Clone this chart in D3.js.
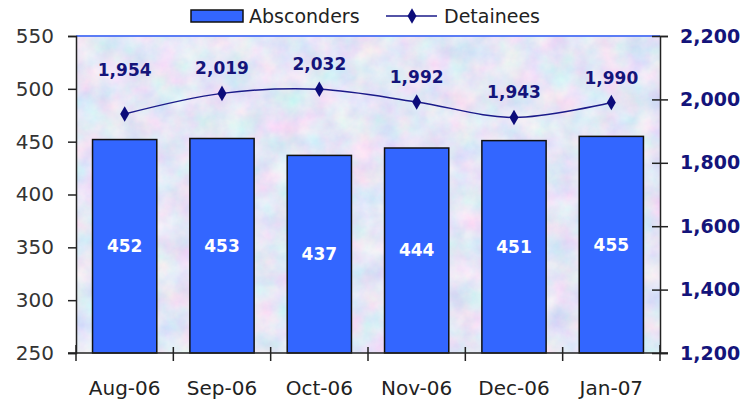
<!DOCTYPE html>
<html>
<head>
<meta charset="utf-8">
<script src="https://cdn.jsdelivr.net/npm/d3@7"></script>
<style>
  body { margin: 0; background: #fff; }
  svg { display: block; font-family: "DejaVu Sans", Verdana, sans-serif; }
</style>
</head>
<body>
<div id="chart"></div>
<script>
// chart data
const months = ['Aug-06', 'Sep-06', 'Oct-06', 'Nov-06', 'Dec-06', 'Jan-07'];
const absconders = [452, 453, 437, 444, 451, 455];
const detainees = [1954, 2019, 2032, 1992, 1943, 1990];
const leftTicks = [250, 300, 350, 400, 450, 500, 550];
const rightTicks = [1200, 1400, 1600, 1800, 2000, 2200];

const width = 754, height = 402;
const margin = { top: 36, right: 94, bottom: 49, left: 76 };
const innerW = width - margin.left - margin.right;
const innerH = height - margin.top - margin.bottom;
const font = '"DejaVu Sans", Verdana, sans-serif';

const svg = d3.select('#chart').append('svg')
  .attr('width', width)
  .attr('height', height);

// textured pastel background for the plot area
const defs = svg.append('defs');
const filt = defs.append('filter').attr('id', 'tex')
  .attr('x', 0).attr('y', 0).attr('width', '100%').attr('height', '100%');
filt.append('feTurbulence')
  .attr('type', 'fractalNoise')
  .attr('baseFrequency', 0.04)
  .attr('numOctaves', 5)
  .attr('seed', 11)
  .attr('result', 'noise');
filt.append('feColorMatrix')
  .attr('in', 'noise')
  .attr('type', 'matrix')
  .attr('values', [
    0.5, 0, 0, 0, 0.53,
    0, 0.35, 0, 0, 0.62,
    0, 0, 0.15, 0, 0.84,
    0, 0, 0, 0, 1
  ].join(' '));

const x = d3.scaleBand()
  .domain(months)
  .range([0, innerW])
  .paddingInner(0.34)
  .paddingOuter(0.17);

const xTick = d3.scaleBand().domain(months).range([0, innerW]);

const yL = d3.scaleLinear().domain([250, 550]).range([innerH, 0]);
const yR = d3.scaleLinear().domain([1200, 2200]).range([innerH, 0]);

const g = svg.append('g').attr('transform', `translate(${margin.left},${margin.top})`);

g.append('rect')
  .attr('width', innerW)
  .attr('height', innerH)
  .attr('filter', 'url(#tex)');

// top border of plot area
g.append('line')
  .attr('x1', 0).attr('x2', innerW)
  .attr('y1', 0).attr('y2', 0)
  .attr('stroke', '#5b7cf5')
  .attr('stroke-width', 2);

// bars
g.selectAll('rect.bar')
  .data(absconders)
  .enter().append('rect')
  .attr('class', 'bar')
  .attr('x', (d, i) => x(months[i]))
  .attr('y', d => yL(d))
  .attr('width', x.bandwidth())
  .attr('height', d => innerH - yL(d))
  .attr('fill', '#3366ff')
  .attr('stroke', '#111')
  .attr('stroke-width', 1.5);

g.selectAll('text.barlab')
  .data(absconders)
  .enter().append('text')
  .attr('class', 'barlab')
  .attr('x', (d, i) => x(months[i]) + x.bandwidth() / 2)
  .attr('y', d => (yL(d) + innerH) / 2)
  .attr('dy', '0.35em')
  .attr('text-anchor', 'middle')
  .attr('fill', '#fff')
  .attr('font-weight', 'bold')
  .attr('font-size', 17)
  .text(d => d);

// detainees line
const cx = i => x(months[i]) + x.bandwidth() / 2;
const line = d3.line()
  .x((d, i) => cx(i))
  .y(d => yR(d))
  .curve(d3.curveCatmullRom.alpha(0.5));

g.append('path')
  .datum(detainees)
  .attr('d', line)
  .attr('fill', 'none')
  .attr('stroke', '#1a1a88')
  .attr('stroke-width', 1.5);

const diamond = d3.symbol().type(d3.symbolDiamond).size(70);
g.selectAll('path.pt')
  .data(detainees)
  .enter().append('path')
  .attr('class', 'pt')
  .attr('d', diamond)
  .attr('transform', (d, i) => `translate(${cx(i)},${yR(d)})`)
  .attr('fill', '#0c0c7a');

// labels sit above the markers; the first one was pushed up a bit in the original
const fmt = d3.format(',');
g.selectAll('text.ptlab')
  .data(detainees)
  .enter().append('text')
  .attr('class', 'ptlab')
  .attr('x', (d, i) => cx(i))
  .attr('y', (d, i) => yR(d) - (i === 0 ? 44 : 25))
  .attr('dy', '0.35em')
  .attr('text-anchor', 'middle')
  .attr('fill', '#14147a')
  .attr('font-weight', 'bold')
  .attr('font-size', 17)
  .text(d => fmt(d));

// left axis
const leftAxis = g.append('g')
  .call(d3.axisLeft(yL).tickValues(leftTicks).tickSize(8).tickPadding(14));
leftAxis.select('.domain').attr('stroke', '#222').attr('stroke-width', 1.5);
leftAxis.selectAll('.tick line').attr('stroke', '#222').attr('stroke-width', 1.5);
leftAxis.selectAll('.tick text')
  .attr('font-size', 20)
  .attr('fill', '#333')
  .attr('font-family', font);

// right axis
const rightAxis = g.append('g')
  .attr('transform', `translate(${innerW},0)`)
  .call(d3.axisRight(yR).tickValues(rightTicks).tickSize(8).tickPadding(12).tickFormat(fmt));
rightAxis.select('.domain').attr('stroke', '#222').attr('stroke-width', 1.5);
rightAxis.selectAll('.tick line').attr('stroke', '#222').attr('stroke-width', 1.5).attr('x1', -8);
rightAxis.selectAll('.tick text')
  .attr('font-size', 19)
  .attr('font-weight', 'bold')
  .attr('fill', '#14147a')
  .attr('font-family', font);

// bottom axis
const bottom = g.append('g').attr('transform', `translate(0,${innerH})`);
bottom.append('line')
  .attr('x1', -8).attr('x2', innerW + 8)
  .attr('stroke', '#222').attr('stroke-width', 1.5);
bottom.selectAll('line.xt')
  .data(d3.range(months.length + 1))
  .enter().append('line')
  .attr('class', 'xt')
  .attr('x1', i => i * xTick.bandwidth())
  .attr('x2', i => i * xTick.bandwidth())
  .attr('y1', i => (i === 0 || i === months.length) ? -8 : -6)
  .attr('y2', 8)
  .attr('stroke', '#222').attr('stroke-width', 1.5);
bottom.selectAll('text.xl')
  .data(months)
  .enter().append('text')
  .attr('class', 'xl')
  .attr('x', d => xTick(d) + xTick.bandwidth() / 2)
  .attr('y', 42)
  .attr('text-anchor', 'middle')
  .attr('font-size', 20)
  .attr('fill', '#222')
  .text(d => d);

// legend
const leg = svg.append('g');
leg.append('rect')
  .attr('x', 191).attr('y', 10)
  .attr('width', 52).attr('height', 12)
  .attr('fill', '#3366ff')
  .attr('stroke', '#111').attr('stroke-width', 1.5);
leg.append('text')
  .attr('x', 249).attr('y', 16).attr('dy', '0.35em')
  .attr('font-size', 19).attr('fill', '#222')
  .text('Absconders');
leg.append('line')
  .attr('x1', 386).attr('x2', 437)
  .attr('y1', 16).attr('y2', 16)
  .attr('stroke', '#1a1a88').attr('stroke-width', 1.5);
leg.append('path')
  .attr('d', diamond)
  .attr('transform', 'translate(412,16)')
  .attr('fill', '#0c0c7a');
leg.append('text')
  .attr('x', 444).attr('y', 16).attr('dy', '0.35em')
  .attr('font-size', 19).attr('fill', '#222')
  .text('Detainees');
</script>
</body>
</html>
